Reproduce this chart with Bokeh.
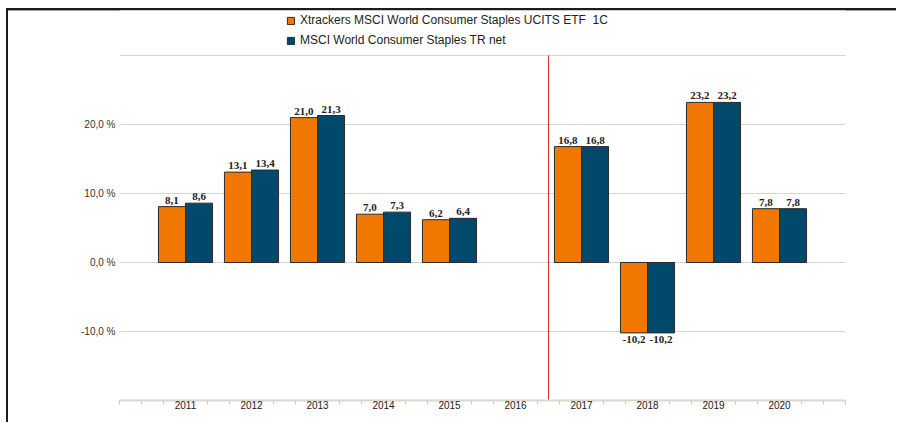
import math
from bokeh.plotting import figure
from bokeh.models import (Range1d, FixedTicker, Legend, LegendItem,
                          ColumnDataSource, LabelSet)
from bokeh.transform import dodge
from bokeh.embed import file_html
from bokeh.resources import INLINE

# ---- data ----
years = ["2011", "2012", "2013", "2014", "2015", "2016", "2017", "2018", "2019", "2020"]
etf = [8.1, 13.1, 21.0, 7.0, 6.2, math.nan, 16.8, -10.2, 23.2, 7.8]
index = [8.6, 13.4, 21.3, 7.3, 6.4, math.nan, 16.8, -10.2, 23.2, 7.8]
series_names = ["Xtrackers MSCI World Consumer Staples UCITS ETF  1C",
                "MSCI World Consumer Staples TR net"]
y_ticks = [-20, -10, 0, 10, 20, 30]
y_tick_labels = ["", "-10,0 %", "0,0 %", "10,0 %", "20,0 %", ""]
divider_after = "2016"

ORANGE = "#F07800"
BLUE = "#00496B"
FONT = "Liberation Sans"

y_min, y_max_grid = -20, 30
px_per_unit = 6.9
frame_h = 390
y_top = y_min + frame_h / px_per_unit

p = figure(width=896, height=422, output_backend="svg", toolbar_location=None,
           x_range=Range1d(-1, len(years)), y_range=Range1d(y_min, y_top),
           min_border_left=119, min_border_right=51, min_border_top=10,
           min_border_bottom=22, outline_line_color=None)
p.styles = {
    "background": ("linear-gradient(#1c1c1c,#1c1c1c) 6px 8px / 2px 100% no-repeat, "
                   "linear-gradient(#1c1c1c,#1c1c1c) 6px 8px / 100% 2px no-repeat, "
                   "linear-gradient(#9a9a9a,#9a9a9a) 8px 10px / 100% 1px no-repeat, "
                   "#ffffff")
}
p.border_fill_alpha = 0

def fmt(v):
    return f"{v:.1f}".replace(".", ",")

def make_src(vals):
    xs, ys, labels = [], [], []
    for i, v in enumerate(vals):
        if not math.isnan(v):
            xs.append(i); ys.append(v); labels.append(fmt(v))
    return ColumnDataSource(dict(x=xs, y=ys, label=labels))

src_a = make_src(etf)
src_b = make_src(index)

bw = 0.41
ra = p.vbar(x=dodge("x", -bw / 2, range=p.x_range), top="y", bottom=0, width=bw,
            source=src_a, fill_color=ORANGE, line_color="#2a2a2a", line_width=1)
rb = p.vbar(x=dodge("x", bw / 2, range=p.x_range), top="y", bottom=0, width=bw,
            source=src_b, fill_color=BLUE, line_color="#2a2a2a", line_width=1)

# value labels
for src, off in ((src_a, -bw / 2), (src_b, bw / 2)):
    d = src.data
    pos = ColumnDataSource(dict(x=[x for x, y in zip(d["x"], d["y"]) if y >= 0],
                                y=[y for y in d["y"] if y >= 0],
                                label=[l for l, y in zip(d["label"], d["y"]) if y >= 0]))
    neg = ColumnDataSource(dict(x=[x for x, y in zip(d["x"], d["y"]) if y < 0],
                                y=[y for y in d["y"] if y < 0],
                                label=[l for l, y in zip(d["label"], d["y"]) if y < 0]))
    for s, base, yo in ((pos, "bottom", 3), (neg, "top", -3)):
        ls = LabelSet(x=dodge("x", off, range=p.x_range), y="y", text="label", source=s,
                      text_align="center", text_baseline=base, y_offset=yo,
                      text_font=FONT, text_font_size="11px", text_font_style="bold",
                      text_color="#222222")
        p.add_layout(ls)

# divider line
dx = years.index(divider_after) + 0.5
p.segment(x0=[dx], y0=[y_min], x1=[dx], y1=[y_max_grid], line_color="#E02A2A", line_width=1)

# y axis
p.yaxis.ticker = FixedTicker(ticks=y_ticks, minor_ticks=[])
p.yaxis.major_label_overrides = {t: l for t, l in zip(y_ticks, y_tick_labels)}
p.yaxis.axis_line_color = None
p.yaxis.major_tick_line_color = None
p.yaxis.minor_tick_line_color = None
p.yaxis.major_tick_out = 0
p.yaxis.major_label_standoff = 4
p.yaxis.major_label_text_font = FONT
p.yaxis.major_label_text_font_size = "10px"
p.yaxis.major_label_text_color = "#333333"
p.ygrid.ticker = FixedTicker(ticks=y_ticks)
p.ygrid.grid_line_color = "#d8d5ce"
p.ygrid.grid_line_width = 1
p.xgrid.grid_line_color = None

# x axis
n = len(years)
minor = [k / 3 for k in range(-3, 3 * n + 1) if k % 3 != 0 or k in (-3, 3 * n)]
p.xaxis.ticker = FixedTicker(ticks=list(range(n)), minor_ticks=minor)
p.xaxis.major_label_overrides = {i: y for i, y in enumerate(years)}
p.xaxis.axis_line_color = "#dcd8cf"
p.xaxis.axis_line_width = 2
p.xaxis.major_tick_line_color = None
p.xaxis.major_tick_out = 0
p.xaxis.major_tick_in = 0
p.xaxis.minor_tick_line_color = "#cfcabf"
p.xaxis.minor_tick_out = 4
p.xaxis.minor_tick_in = 0
p.xaxis.major_label_standoff = -4
p.xaxis.major_label_text_font = FONT
p.xaxis.major_label_text_font_size = "10px"
p.xaxis.major_label_text_color = "#222222"

# legend
legend = Legend(items=[LegendItem(label=series_names[0], renderers=[ra]),
                       LegendItem(label=series_names[1], renderers=[rb])],
                location=(167, frame_h - 40), orientation="vertical",
                padding=0, margin=0, spacing=0, glyph_width=9, glyph_height=9,
                label_height=20, label_standoff=5, label_text_font=FONT,
                label_text_font_size="12px", label_text_color="#222222",
                background_fill_alpha=0, border_line_color=None)
p.add_layout(legend)

p.background_fill_color = "white"

open("out.html", "w").write(file_html(p, INLINE))
